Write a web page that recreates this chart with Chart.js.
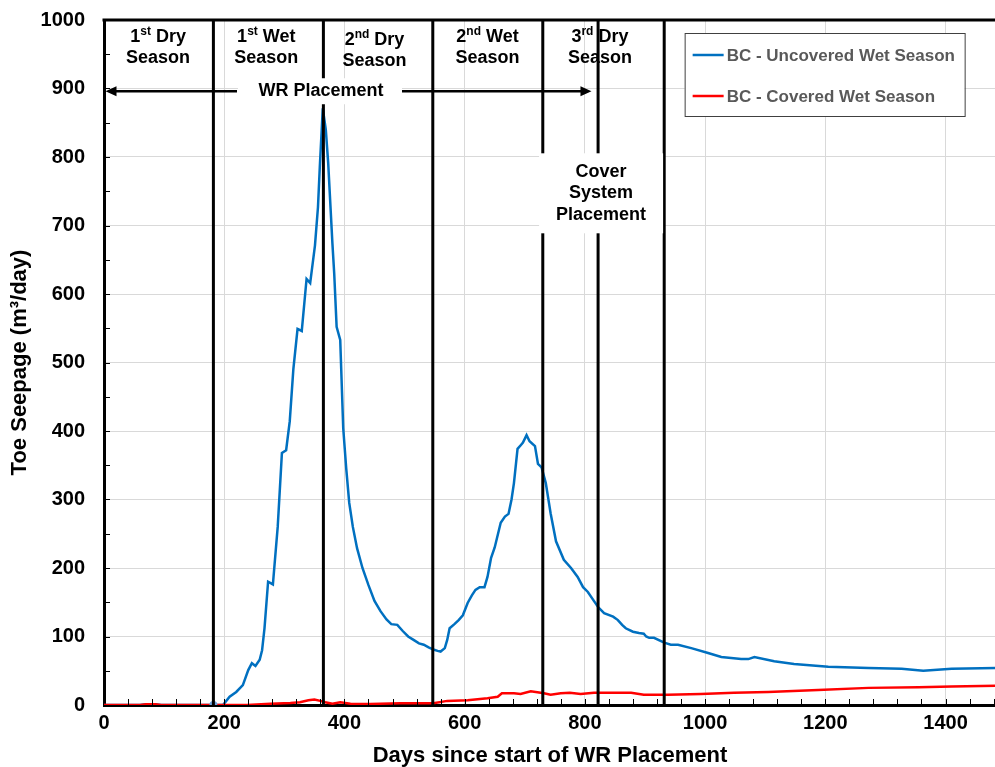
<!DOCTYPE html>
<html>
<head>
<meta charset="utf-8">
<script src="https://cdn.jsdelivr.net/npm/chart.js@4.4.1/dist/chart.umd.min.js"></script>
<style>
  html, body { margin: 0; padding: 0; background: #fff; overflow: hidden; }
  #wrap { width: 1000px; height: 767px; }
</style>
</head>
<body>
<div id="wrap"><canvas id="chart"></canvas></div>
<script>
// days since start of WR placement, toe seepage in m3/day
var uncoveredDays = [0, 60, 70, 85, 95, 182, 198, 209, 220, 231, 240, 246, 252, 259, 263, 267, 273, 281, 289,
  296, 303, 309, 315, 322, 329, 337, 343, 351, 356, 359, 364, 369, 373, 380, 383, 387, 393, 398, 403, 408,
  414, 421, 430, 440, 450, 460, 470, 478, 488, 497, 506, 515, 524, 532, 540, 548, 555, 560, 567, 571, 575,
  583, 590, 597, 605, 612, 618, 625, 633, 638, 644, 650, 660, 667, 673, 678, 682, 688, 694, 697, 703, 708,
  717, 722, 728, 735, 743, 752, 765, 777, 788, 797, 805, 815, 822, 832, 847, 855, 862, 868, 880, 890, 898,
  902, 907, 915, 932, 943, 955, 977, 1005, 1027, 1060, 1072, 1082, 1115, 1148, 1205, 1272, 1327, 1363, 1410, 1484];
var uncoveredFlow = [0, 0, 1, 1, 0, 0, 0, 12, 19, 29, 51, 61, 57, 66, 80, 112, 180, 176, 260,
  368, 372, 414, 490, 549, 546, 622, 616, 671, 727, 785, 871, 840, 791, 674, 630, 552, 533, 404, 345, 295,
  260, 229, 200, 175, 152, 137, 125, 118, 117, 108, 100, 95, 90, 88, 84, 81, 79, 78, 83, 95, 112,
  118, 124, 131, 149, 160, 168, 172, 172, 187, 215, 230, 266, 275, 279, 300, 324, 374, 380, 383, 394, 385,
  378, 352, 347, 324, 280, 239, 212, 200, 187, 172, 165, 152, 143, 134, 129, 124, 117, 112, 107, 105, 104,
  100, 98, 98, 91, 88, 88, 83, 76, 70, 67, 67, 70, 64, 60, 56, 54, 53, 50, 53, 54];

var coveredDays = [0, 60, 70, 85, 95, 182, 238, 277, 310, 326, 340, 350, 360, 368, 380, 393, 410, 443, 493,
  548, 571, 605, 638, 655, 662, 682, 693, 710, 732, 743, 760, 775, 793, 815, 877, 898, 938, 993, 1048,
  1105, 1188, 1272, 1355, 1410, 1484];
var coveredFlow = [0, 0, 1, 1, 0, 0, 0, 2, 3, 4, 7, 8, 6, 4, 2, 4, 2, 1.5, 2.5,
  2.5, 6, 7, 10, 12, 17, 17, 16, 20, 17, 15, 17, 18, 16, 18, 18, 15, 15, 16, 18,
  19, 22, 25, 26, 27, 28];

// start of WR placement marker
var markerDays = [182];
var markerFlow = [0];

// season boundaries and cover placement window
var boundaryDays = [182, 365, 547, 730, 822, 932];
var seasonNames = [["1", "st", " Dry"], ["1", "st", " Wet"], ["2", "nd", " Dry"], ["2", "nd", " Wet"], ["3", "rd", " Dry"]];
var seasonCenters = [90, 270, 450, 638, 825];

var xTicks = [0, 200, 400, 600, 800, 1000, 1200, 1400];
var yTicks = [0, 100, 200, 300, 400, 500, 600, 700, 800, 900, 1000];

var FONT = '"Liberation Sans", Arial, sans-serif';

function toPoints(xs, ys) {
  return xs.map(function (d, i) { return { x: d, y: ys[i] }; });
}

function drawSeasonLabel(ctx, parts, cx, cy) {
  var big = 'bold 18px ' + FONT, small = 'bold 12px ' + FONT;
  ctx.font = big;
  var w1 = ctx.measureText(parts[0]).width, w3 = ctx.measureText(parts[2]).width;
  ctx.font = small;
  var w2 = ctx.measureText(parts[1]).width;
  var x0 = cx - (w1 + w2 + w3) / 2;
  ctx.textAlign = 'left';
  ctx.font = big;
  ctx.fillText(parts[0], x0, cy);
  ctx.font = small;
  ctx.fillText(parts[1], x0 + w1, cy - 5);
  ctx.font = big;
  ctx.fillText(parts[2], x0 + w1 + w2, cy);
  ctx.textAlign = 'center';
  ctx.fillText('Season', cx, cy + 21);
}

var annotations = {
  id: 'annotations',
  afterDatasetsDraw: function (chart) {
    var ctx = chart.ctx, a = chart.chartArea;
    var x = chart.scales.x, y = chart.scales.y;
    ctx.save();

    // minor ticks, pointing inward
    ctx.strokeStyle = '#000';
    ctx.lineWidth = 1;
    ctx.beginPath();
    for (var d = 40; d < x.max; d += 40) {
      var px = Math.round(x.getPixelForValue(d)) + 0.5;
      ctx.moveTo(px, a.bottom); ctx.lineTo(px, a.bottom - 6);
    }
    for (var v = 50; v < 1000; v += 50) {
      var py = Math.round(y.getPixelForValue(v)) + 0.5;
      ctx.moveTo(a.left, py); ctx.lineTo(a.left + 6, py);
    }
    ctx.stroke();

    // season boundaries
    ctx.lineWidth = 3;
    ctx.beginPath();
    boundaryDays.forEach(function (d) {
      var px = x.getPixelForValue(d);
      ctx.moveTo(px, a.top); ctx.lineTo(px, a.bottom);
    });
    ctx.stroke();

    // top border
    ctx.beginPath();
    ctx.moveTo(a.left - 1.5, a.top); ctx.lineTo(a.right, a.top);
    ctx.stroke();

    // WR placement arrow
    var ay = y.getPixelForValue(896);
    var ax0 = x.getPixelForValue(0) + 1.5, ax1 = x.getPixelForValue(811);
    var tx = x.getPixelForValue(361);
    ctx.fillStyle = '#fff';
    ctx.fillRect(tx - 83, ay - 13, 164, 26);
    ctx.fillRect(x.getPixelForValue(827) - 62, y.getPixelForValue(747) - 40, 124, 80);

    ctx.strokeStyle = '#000';
    ctx.fillStyle = '#000';
    ctx.lineWidth = 2.5;
    ctx.beginPath();
    ctx.moveTo(ax0 + 8, ay); ctx.lineTo(tx - 84, ay);
    ctx.moveTo(tx + 81, ay); ctx.lineTo(ax1 - 8, ay);
    ctx.stroke();
    ctx.beginPath();
    ctx.moveTo(ax0, ay); ctx.lineTo(ax0 + 11, ay - 5); ctx.lineTo(ax0 + 11, ay + 5); ctx.closePath();
    ctx.moveTo(ax1, ay); ctx.lineTo(ax1 - 11, ay - 5); ctx.lineTo(ax1 - 11, ay + 5); ctx.closePath();
    ctx.fill();

    ctx.textBaseline = 'middle';
    ctx.textAlign = 'center';
    ctx.font = 'bold 18px ' + FONT;
    ctx.fillText('WR Placement', tx, ay);

    var cx = x.getPixelForValue(827), cy = y.getPixelForValue(747);
    ctx.fillText('Cover', cx, cy - 21);
    ctx.fillText('System', cx, cy);
    ctx.fillText('Placement', cx, cy + 22);

    seasonNames.forEach(function (p, i) {
      var off = i === 2 ? 3 : 0;
      drawSeasonLabel(ctx, p, x.getPixelForValue(seasonCenters[i]), a.top + 17 + off);
    });

    // legend
    var lx = x.getPixelForValue(966), ly = a.top + 13;
    ctx.fillStyle = '#fff';
    ctx.fillRect(lx, ly, 280, 83);
    ctx.strokeStyle = '#404040';
    ctx.lineWidth = 1;
    ctx.strokeRect(lx + 0.5, ly + 0.5, 280, 83);
    ctx.font = 'bold 17px ' + FONT;
    ctx.textAlign = 'left';
    [0, 1].forEach(function (i) {
      var ds = chart.data.datasets[i];
      var ey = ly + 22 + i * 41;
      ctx.strokeStyle = ds.borderColor;
      ctx.lineWidth = 2.5;
      ctx.beginPath();
      ctx.moveTo(lx + 8, ey); ctx.lineTo(lx + 39, ey);
      ctx.stroke();
      ctx.fillStyle = '#595959';
      ctx.fillText(ds.label, lx + 42, ey + 1);
    });
    ctx.restore();
  }
};

new Chart(document.getElementById('chart'), {
  type: 'line',
  data: {
    datasets: [
      {
        label: 'BC - Uncovered Wet Season',
        data: toPoints(uncoveredDays, uncoveredFlow),
        borderColor: '#0070C0',
        borderWidth: 2.5,
        pointRadius: 0,
        tension: 0,
        order: 2
      },
      {
        label: 'BC - Covered Wet Season',
        data: toPoints(coveredDays, coveredFlow),
        borderColor: '#FF0000',
        borderWidth: 2.5,
        pointRadius: 0,
        tension: 0,
        order: 1
      },
      {
        label: 'marker',
        data: toPoints(markerDays, markerFlow),
        showLine: false,
        pointRadius: 4,
        pointBackgroundColor: '#6FA3DC',
        pointBorderWidth: 0,
        order: 0
      }
    ]
  },
  options: {
    responsive: true,
    maintainAspectRatio: false,
    animation: false,
    layout: { padding: { top: 20, right: 0, bottom: 0, left: 0 } },
    plugins: { legend: { display: false }, tooltip: { enabled: false } },
    scales: {
      x: {
        type: 'linear',
        min: 0,
        max: 1484,
        afterBuildTicks: function (s) { s.ticks = xTicks.map(function (v) { return { value: v }; }); },
        afterFit: function (s) { s.height = 62; s.paddingLeft = 0; s.paddingRight = 0; },
        ticks: {
          color: '#000',
          font: { family: FONT, size: 20, weight: 'bold' },
          padding: 6,
          maxRotation: 0,
          callback: function (v) { return String(v); }
        },
        grid: { color: '#d9d9d9', lineWidth: 1, drawTicks: false },
        border: { color: '#000', width: 3 },
        title: {
          display: true,
          text: 'Days since start of WR Placement',
          color: '#000',
          font: { family: FONT, size: 22, weight: 'bold', lineHeight: 1 },
          padding: 0
        }
      },
      y: {
        min: 0,
        max: 1000,
        afterBuildTicks: function (s) { s.ticks = yTicks.map(function (v) { return { value: v }; }); },
        afterFit: function (s) { s.width = 104; s.paddingTop = 0; s.paddingBottom = 0; },
        ticks: {
          color: '#000',
          font: { family: FONT, size: 20, weight: 'bold' },
          padding: 19,
          callback: function (v) { return String(v); }
        },
        grid: { color: '#d9d9d9', lineWidth: 1, drawTicks: false },
        border: { color: '#000', width: 3 },
        title: {
          display: true,
          text: 'Toe Seepage (m³/day)',
          color: '#000',
          font: { family: FONT, size: 22, weight: 'bold', lineHeight: 1 },
          padding: { top: 9, bottom: 0 }
        }
      }
    }
  },
  plugins: [annotations]
});
</script>
</body>
</html>
